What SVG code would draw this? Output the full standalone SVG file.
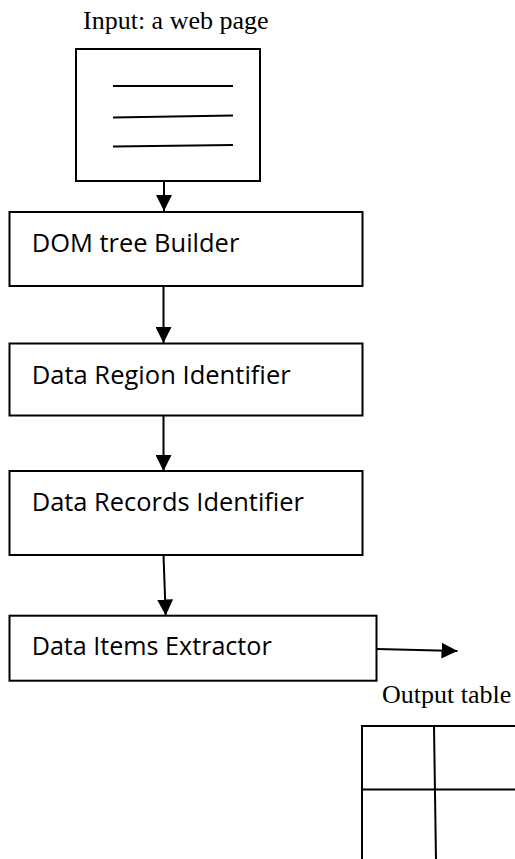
<svg xmlns="http://www.w3.org/2000/svg" width="515" height="859" viewBox="0 0 515 859">
<style>
.box{fill:#fff;stroke:#000;stroke-width:2}
.ln{stroke:#000;stroke-width:2;fill:none}
.lbl{font-family:"Open Sans","Liberation Sans",sans-serif;font-size:26px;fill:#000}
.cap{font-family:"Liberation Serif","Times New Roman",serif;font-size:26px;fill:#000}
</style>
<defs>
<marker id="ah" markerUnits="userSpaceOnUse" markerWidth="16" markerHeight="16" viewBox="0 0 16 16" refX="16" refY="8" orient="auto">
<path d="M0,0 L16,8 L0,16 Z" fill="#000"/>
</marker>
</defs>
<rect width="515" height="859" fill="#fff"/>
<g id="input">
<text class="cap" x="83" y="29">Input: a web page</text>
<rect class="box" x="76" y="49" width="184" height="132"/>
<line class="ln" x1="113" y1="86" x2="233" y2="86"/>
<line class="ln" x1="113" y1="117.5" x2="233" y2="115.5"/>
<line class="ln" x1="113" y1="146.5" x2="233" y2="145"/>
</g>
<g id="dom">
<rect class="box" x="9.5" y="212" width="353" height="74"/>
<text class="lbl" x="31.7" y="252" textLength="207.6" lengthAdjust="spacingAndGlyphs">DOM tree Builder</text>
</g>
<g id="region">
<rect class="box" x="9.5" y="343.5" width="353" height="72"/>
<text class="lbl" x="31.7" y="383.5" textLength="259" lengthAdjust="spacingAndGlyphs">Data Region Identifier</text>
</g>
<g id="records">
<rect class="box" x="9.5" y="471" width="353" height="84"/>
<text class="lbl" x="31.7" y="511" textLength="272.3" lengthAdjust="spacingAndGlyphs">Data Records Identifier</text>
</g>
<g id="items">
<rect class="box" x="9.5" y="615.7" width="367" height="65"/>
<text class="lbl" x="31.7" y="655" textLength="240" lengthAdjust="spacingAndGlyphs">Data Items Extractor</text>
</g>
<g id="output">
<text class="cap" x="382" y="703">Output table</text>
<line class="ln" x1="362" y1="726" x2="516" y2="726"/>
<line class="ln" x1="362" y1="789.5" x2="516" y2="789.5"/>
<line class="ln" x1="362" y1="725" x2="362" y2="860"/>
<line class="ln" x1="434" y1="726" x2="436" y2="860"/>
</g>
<g id="connectors">
<line class="ln" x1="164" y1="181" x2="164" y2="211" marker-end="url(#ah)"/>
<line class="ln" x1="163.5" y1="286" x2="163.5" y2="343" marker-end="url(#ah)"/>
<line class="ln" x1="163.5" y1="415.5" x2="163.5" y2="471" marker-end="url(#ah)"/>
<line class="ln" x1="163.5" y1="555" x2="165.7" y2="615.5" marker-end="url(#ah)"/>
<line class="ln" x1="376.7" y1="649" x2="457.5" y2="651" marker-end="url(#ah)"/>
</g>
</svg>
